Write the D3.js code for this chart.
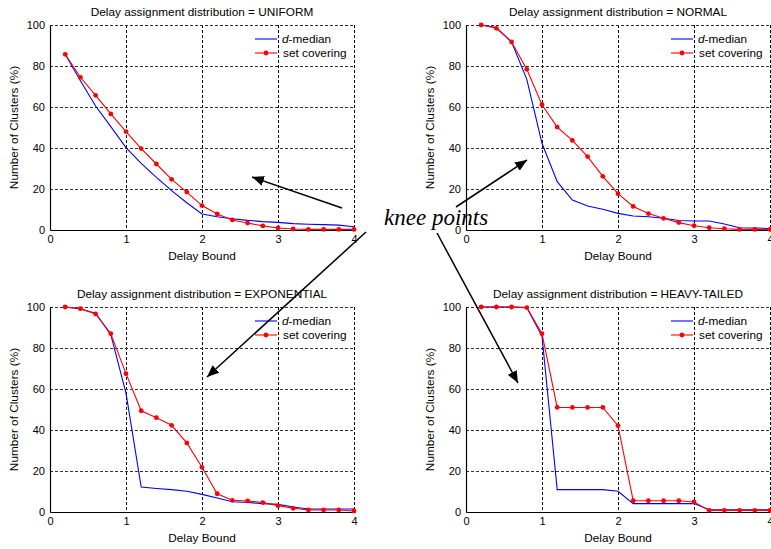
<!DOCTYPE html>
<html>
<head>
<meta charset="utf-8">
<script src="https://cdn.jsdelivr.net/npm/d3@7"></script>
<style>
  html, body { margin: 0; padding: 0; background: #fff; }
  svg { display: block; font-family: Arial, "Liberation Sans", Helvetica, sans-serif; }
</style>
</head>
<body>
<svg id="chart" width="771" height="549"></svg>
<script>
// Delay bound values shared by every panel
const delayBounds = [0.2, 0.4, 0.6, 0.8, 1.0, 1.2, 1.4, 1.6, 1.8, 2.0,
                     2.2, 2.4, 2.6, 2.8, 3.0, 3.2, 3.4, 3.6, 3.8, 4.0];

// Percentage of clusters, one pair of series per delay distribution
const uniformDMedian  = [85.7, 72.8, 60.5, 50.4, 40.2, 32.5, 25.7, 19.2, 13.3, 7.8,
                         6.5, 5.5, 4.7, 4.1, 3.7, 3.1, 2.8, 2.6, 2.4, 1.6];
const uniformSetCover = [85.7, 74.5, 65.7, 56.6, 48.0, 39.7, 32.2, 24.7, 18.5, 11.9,
                         7.8, 4.9, 3.4, 2.0, 1.0, 0.5, 0.3, 0.3, 0.3, 0.3];
const normalDMedian   = [100, 98.8, 91.7, 73.5, 42.3, 23.6, 14.6, 11.7, 10.1, 8.1,
                         6.8, 6.5, 5.7, 4.6, 4.4, 4.4, 2.9, 1.1, 1.0, 0.7];
const normalSetCover  = [100, 98.4, 91.7, 78.4, 61.1, 50.2, 43.7, 35.8, 26.2, 17.7,
                         11.5, 8.0, 5.7, 3.6, 2.1, 1.1, 0.6, 0.3, 0.3, 0.3];
const expDMedian      = [100, 99.0, 97.0, 86.5, 58.0, 12.2, 11.5, 10.9, 10.1, 8.6,
                         6.8, 5.0, 4.6, 4.1, 3.7, 2.4, 1.5, 1.5, 1.5, 1.5];
const expSetCover     = [100, 99.2, 96.6, 87.0, 67.5, 49.4, 46.0, 42.3, 33.7, 21.8,
                         8.9, 5.7, 5.4, 4.6, 3.1, 1.8, 1.0, 1.0, 1.0, 0.5];
const heavyDMedian    = [100, 100, 100, 99.7, 85.7, 10.9, 10.9, 10.9, 10.9, 10.1,
                         4.1, 4.1, 4.1, 4.1, 4.1, 1.1, 1.1, 1.1, 1.1, 1.1];
const heavySetCover   = [100, 100, 100, 99.7, 87.0, 51.0, 51.0, 51.0, 51.0, 42.1,
                         5.5, 5.5, 5.5, 5.5, 4.9, 0.8, 0.8, 0.8, 0.8, 0.8];

const distributions = ["UNIFORM", "NORMAL", "EXPONENTIAL", "HEAVY-TAILED"];
const xTicks = [0, 1, 2, 3, 4];
const yTicks = [0, 20, 40, 60, 80, 100];
const seriesNames = ["d-median", "set covering"];
const xLabel = "Delay Bound";
const yLabel = "Number of Clusters (%)";
const titlePrefix = "Delay assignment distribution = ";
const annotationText = "knee points";

const panelSeries = [
  [uniformDMedian, uniformSetCover],
  [normalDMedian, normalSetCover],
  [expDMedian, expSetCover],
  [heavyDMedian, heavySetCover]
];

// Layout of the 2x2 grid of panels
const panelLeft = [50, 466, 50, 466];
const panelTop = [25, 25, 307, 307];
const plotW = 304, plotH = 205;

const svg = d3.select("#chart");

panelSeries.forEach((series, i) => {
  const g = svg.append("g").attr("transform", `translate(${panelLeft[i]},${panelTop[i]})`);
  const x = d3.scaleLinear().domain([0, 4]).range([0, plotW]);
  const y = d3.scaleLinear().domain([0, 100]).range([plotH, 0]);

  // dashed grid
  g.append("g").selectAll("line").data(xTicks.filter(t => t > 0)).join("line")
    .attr("x1", d => x(d) + 0.5).attr("x2", d => x(d) + 0.5)
    .attr("y1", 0).attr("y2", plotH)
    .attr("stroke", "#000").attr("stroke-width", 1).attr("stroke-dasharray", "3,2");
  g.append("g").selectAll("line").data(yTicks.filter(t => t > 0)).join("line")
    .attr("x1", 0).attr("x2", plotW)
    .attr("y1", d => y(d) + 0.5).attr("y2", d => y(d) + 0.5)
    .attr("stroke", "#333").attr("stroke-width", 1).attr("stroke-dasharray", "3,2");

  // axes
  const xAxis = g.append("g").attr("transform", `translate(0,${plotH})`)
    .call(d3.axisBottom(x).tickValues(xTicks).tickSize(0).tickPadding(5).tickFormat(d3.format("d")));
  const yAxis = g.append("g")
    .call(d3.axisLeft(y).tickValues(yTicks).tickSize(0).tickPadding(5).tickFormat(d3.format("d")));
  [xAxis, yAxis].forEach(a => {
    a.select(".domain").attr("stroke", "#000").attr("stroke-width", 1.2);
    a.selectAll("text").attr("font-size", 11).attr("fill", "#000")
      .attr("font-family", "Arial, 'Liberation Sans', sans-serif");
  });

  // titles and axis labels
  g.append("text").attr("x", plotW / 2).attr("y", -9).attr("text-anchor", "middle")
    .attr("font-size", 11.8).text(titlePrefix + distributions[i]);
  g.append("text").attr("x", plotW / 2).attr("y", plotH + 30).attr("text-anchor", "middle")
    .attr("font-size", 11.8).text(xLabel);
  g.append("text").attr("transform", `translate(-32,${plotH / 2}) rotate(-90)`)
    .attr("text-anchor", "middle").attr("font-size", 11.8).text(yLabel);

  const line = d3.line().x((d, j) => x(delayBounds[j])).y(d => y(d));
  // d-median
  g.append("path").datum(series[0]).attr("d", line)
    .attr("fill", "none").attr("stroke", "#0000ff").attr("stroke-width", 1.1);
  // set covering with markers
  g.append("path").datum(series[1]).attr("d", line)
    .attr("fill", "none").attr("stroke", "#ff0000").attr("stroke-width", 1.1);
  g.append("g").selectAll("circle").data(series[1]).join("circle")
    .attr("cx", (d, j) => x(delayBounds[j])).attr("cy", d => y(d)).attr("r", 2.4)
    .attr("fill", "#ff0000");

  // legend
  const lg = g.append("g").attr("transform", `translate(${plotW - 99},14)`);
  lg.append("line").attr("x1", 0).attr("x2", 22).attr("y1", 0).attr("y2", 0)
    .attr("stroke", "#0000ff").attr("stroke-width", 1.1);
  const t0 = lg.append("text").attr("x", 27).attr("y", 4).attr("font-size", 11.8);
  t0.append("tspan").attr("font-style", "italic").text(seriesNames[0].slice(0, 1));
  t0.append("tspan").text(seriesNames[0].slice(1));
  lg.append("line").attr("x1", 0).attr("x2", 22).attr("y1", 14).attr("y2", 14)
    .attr("stroke", "#ff0000").attr("stroke-width", 1.1);
  lg.append("circle").attr("cx", 11).attr("cy", 14).attr("r", 2.4).attr("fill", "#ff0000");
  lg.append("text").attr("x", 28).attr("y", 18).attr("font-size", 11.8).text(seriesNames[1]);
});

// "knee points" annotation with arrows into each panel
svg.append("defs").append("marker")
  .attr("id", "arrowhead").attr("viewBox", "0 0 12 10").attr("refX", 12).attr("refY", 5)
  .attr("markerWidth", 12).attr("markerHeight", 10).attr("markerUnits", "userSpaceOnUse")
  .attr("orient", "auto")
  .append("path").attr("d", "M0,0 L12,5 L0,10 Z").attr("fill", "#000");

const arrowTails = [[342, 208], [456, 207], [366, 232], [437, 233]];
const arrowHeads = [[252, 177], [527, 160], [207, 377], [518, 383]];
svg.append("g").selectAll("line").data(arrowTails).join("line")
  .attr("x1", d => d[0]).attr("y1", d => d[1])
  .attr("x2", (d, i) => arrowHeads[i][0]).attr("y2", (d, i) => arrowHeads[i][1])
  .attr("stroke", "#000").attr("stroke-width", 1.5).attr("marker-end", "url(#arrowhead)");

svg.append("text").attr("x", 384).attr("y", 225)
  .attr("font-family", "'Times New Roman', 'Liberation Serif', serif")
  .attr("font-style", "italic").attr("font-size", 23).attr("fill", "#000")
  .text(annotationText);
</script>
</body>
</html>
